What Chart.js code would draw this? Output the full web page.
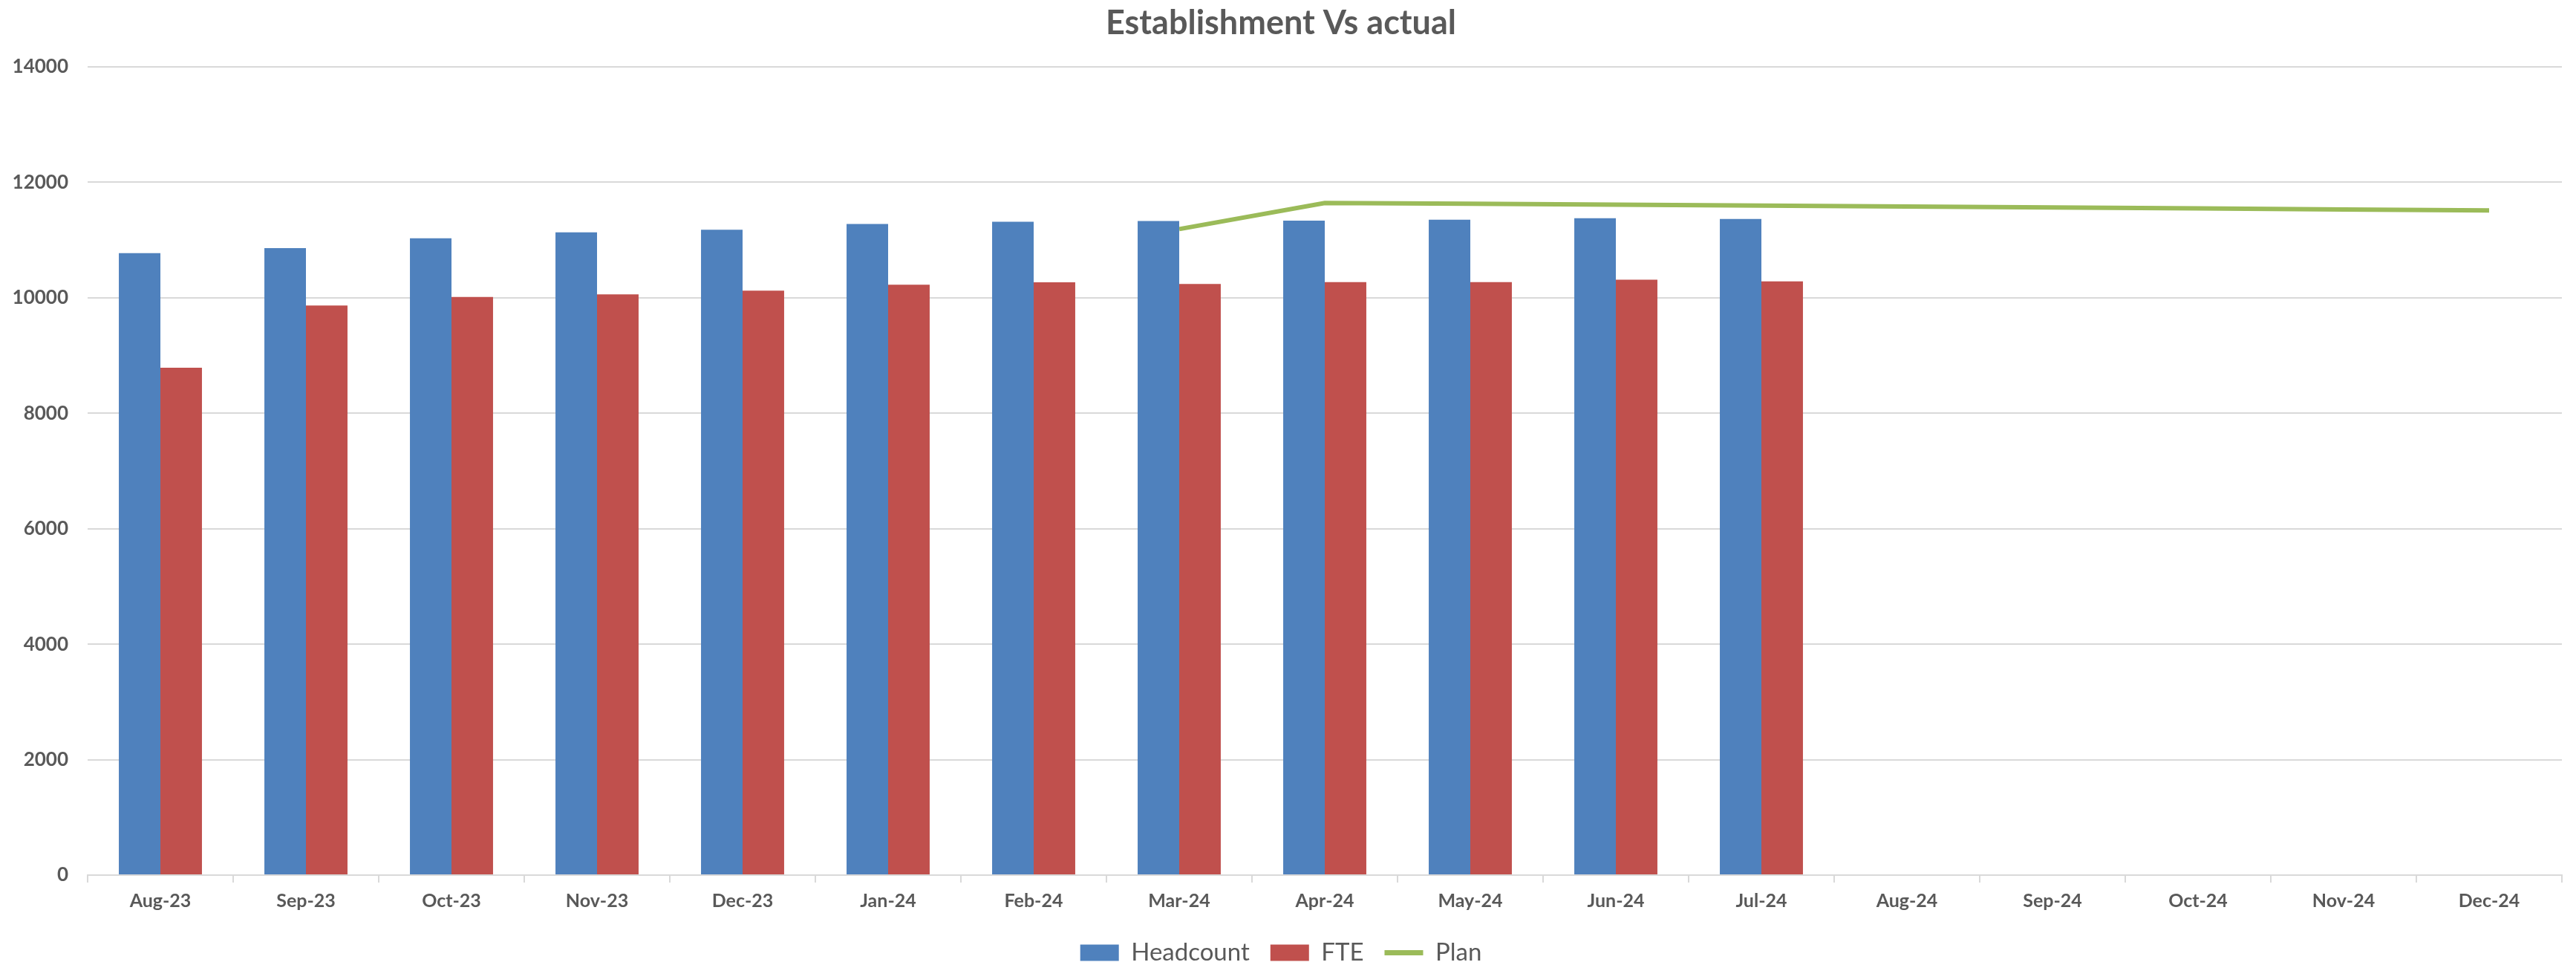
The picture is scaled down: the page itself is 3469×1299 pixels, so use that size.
<!DOCTYPE html>
<html>
<head>
<meta charset="utf-8">
<script src="https://cdn.jsdelivr.net/npm/chart.js@4"></script>
<style>
  html, body { margin: 0; padding: 0; background: #fff; overflow: hidden; }
  #wrap { width: 3469px; height: 1309px; }
</style>
</head>
<body>
<div id="wrap"><canvas id="myChart" width="3469" height="1309"></canvas></div>
<script>
// data
const months = ['Aug-23', 'Sep-23', 'Oct-23', 'Nov-23', 'Dec-23', 'Jan-24', 'Feb-24', 'Mar-24',
  'Apr-24', 'May-24', 'Jun-24', 'Jul-24', 'Aug-24', 'Sep-24', 'Oct-24', 'Nov-24', 'Dec-24'];
const headcount = [10774, 10860, 11030, 11135, 11178, 11277, 11316, 11329, 11338, 11351, 11377, 11364,
  null, null, null, null, null];
const fte = [8787, 9867, 10013, 10060, 10125, 10228, 10267, 10241, 10271, 10271, 10314, 10284,
  null, null, null, null, null];
const plan = [null, null, null, null, null, null, null, 11190, 11643, 11628, 11612, 11597,
  11580, 11564, 11548, 11531, 11514];

const grey = '#595959';
const gridGrey = '#D9D9D9';
const fontFam = 'Lato, "Open Sans", sans-serif';

var ctx = document.getElementById('myChart').getContext('2d');
var chart = new Chart(ctx, {
  type: 'bar',
  data: {
    labels: months,
    datasets: [{
      label: 'Headcount',
      data: headcount,
      backgroundColor: '#4F81BD',
      categoryPercentage: 0.571,
      barPercentage: 1.0
    }, {
      label: 'FTE',
      data: fte,
      backgroundColor: '#C0504D',
      categoryPercentage: 0.571,
      barPercentage: 1.0
    }, {
      type: 'line',
      label: 'Plan',
      data: plan,
      borderColor: '#9BBB59',
      backgroundColor: '#9BBB59',
      borderWidth: 6,
      pointRadius: 0,
      tension: 0,
      pointStyle: 'line'
    }]
  },
  options: {
    responsive: false,
    animation: false,
    layout: { padding: { left: 0, right: 19, top: 0, bottom: 0 } },
    plugins: {
      title: {
        display: true,
        text: 'Establishment Vs actual',
        color: grey,
        font: { family: fontFam, size: 45, weight: 'bold' },
        padding: { top: 4, bottom: 32 }
      },
      legend: {
        position: 'bottom',
        labels: {
          color: grey,
          font: { family: fontFam, size: 33 },
          boxWidth: 52,
          boxHeight: 22,
          padding: 28,
          usePointStyle: true,
          pointStyleWidth: 52,
          generateLabels: function(c) {
            var items = Chart.defaults.plugins.legend.labels.generateLabels(c);
            items.forEach(function(it, i) {
              var ds = c.data.datasets[i];
              it.pointStyle = ds.type === 'line' ? 'line' : 'rect';
              it.lineWidth = ds.type === 'line' ? 7 : 0;
            });
            return items;
          }
        }
      },
      tooltip: { enabled: false }
    },
    scales: {
      x: {
        grid: {
          display: true,
          drawOnChartArea: false,
          drawTicks: true,
          tickLength: 10,
          color: gridGrey,
          lineWidth: 2
        },
        border: { color: gridGrey, width: 2 },
        ticks: {
          color: grey,
          padding: 10,
          font: { family: fontFam, size: 25, weight: 'bold' },
          maxRotation: 0,
          autoSkip: false
        }
      },
      y: {
        min: 0,
        max: 14000,
        afterFit: function(s) { s.width = 118; },
        grid: { color: gridGrey, lineWidth: 2, drawTicks: false },
        border: { display: false },
        ticks: {
          stepSize: 2000,
          color: grey,
          padding: 26,
          font: { family: fontFam, size: 26, weight: 'bold' },
          callback: function(v) { return String(v); }
        }
      }
    }
  }
});
</script>
</body>
</html>
